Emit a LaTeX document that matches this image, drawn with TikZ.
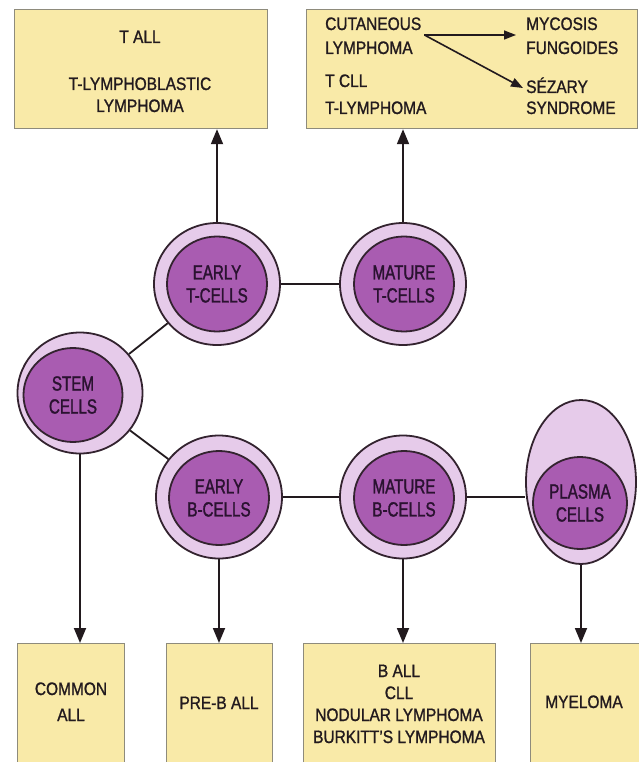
\documentclass[tikz,border=0pt]{standalone}
\usepackage{fontspec}
\setmainfont{Liberation Sans}[FakeStretch=0.86,FakeBold=1.2]
\newfontfamily\cellfont{Liberation Sans}[FakeStretch=0.74,FakeBold=1.4]
\usetikzlibrary{shapes.geometric,arrows.meta,calc}

\definecolor{boxfill}{HTML}{F9EAA8}
\definecolor{boxline}{HTML}{8E8B7C}
\definecolor{cellout}{HTML}{E6CBEA}
\definecolor{cellin}{HTML}{A95CB1}
\definecolor{ink}{HTML}{221A1E}
\definecolor{cellink}{HTML}{2A1230}
\definecolor{rim}{HTML}{33232F}

\begin{document}
\begin{tikzpicture}[x=1pt,y=-1pt,
  panel/.style={draw=boxline, line width=1.2pt, fill=boxfill, rectangle,
                inner sep=0pt, anchor=north west},
  outercell/.style={ellipse, draw=rim, line width=1.8pt, fill=cellout, inner sep=0pt},
  innercell/.style={ellipse, draw=rim, line width=1.8pt, fill=cellin, inner sep=0pt,
                    align=center, text=cellink,
                    font=\cellfont\fontsize{20.5}{23}\selectfont},
  txt/.style={inner sep=0pt, text=ink, font=\fontsize{18}{22}\selectfont},
  link/.style={draw=ink, line width=1.8pt},
  arr/.style={draw=ink, line width=1.8pt, -{Triangle[width=12pt,length=15pt]}},
  smallarr/.style={draw=ink, line width=1.6pt, -{Triangle[width=9pt,length=12pt]}}
]
\useasboundingbox (0,0) rectangle (638,762);

% result panels, top row
\node[panel, minimum width=253pt, minimum height=119pt] (tl) at (14,9) {};
\node[panel, minimum width=331pt, minimum height=119pt] (tr) at (306,9) {};

% result panels, bottom row (running off the lower edge)
\node[panel, minimum width=107pt, minimum height=125pt] (b1) at (17,643) {};
\node[panel, minimum width=106pt, minimum height=125pt] (b2) at (166,643) {};
\node[panel, minimum width=192pt, minimum height=125pt] (b3) at (303,643) {};
\node[panel, minimum width=112pt, minimum height=125pt] (b4) at (530,643) {};

% cells: outer cytoplasm and inner nucleus
\node[outercell, minimum width=126pt, minimum height=122pt] (etO) at (217,284) {};
\node[innercell, minimum width=100pt, minimum height=95pt] (etI) at (217,284) {EARLY\\T-CELLS};

\node[outercell, minimum width=126pt, minimum height=122pt] (mtO) at (403,284) {};
\node[innercell, minimum width=100pt, minimum height=95pt] (mtI) at (404,284) {MATURE\\T-CELLS};

\node[outercell, minimum width=125pt, minimum height=121pt] (stO) at (80,393) {};
\node[innercell, minimum width=99pt, minimum height=94pt] (stI) at (73,395) {STEM\\CELLS};

\node[outercell, minimum width=126pt, minimum height=123pt] (ebO) at (219,497) {};
\node[innercell, minimum width=100pt, minimum height=94pt] (ebI) at (219,498) {EARLY\\B-CELLS};

\node[outercell, minimum width=126pt, minimum height=123pt] (mbO) at (403,497) {};
\node[innercell, minimum width=100pt, minimum height=94pt] (mbI) at (404,498) {MATURE\\B-CELLS};

\node[outercell, minimum width=110pt, minimum height=164pt] (plO) at (581,482) {};
\node[innercell, minimum width=94pt, minimum height=92pt] (plI) at (580,503) {PLASMA\\CELLS};

% lineage links
\draw[link] (stO) -- (etO);
\draw[link] (stO) -- (ebO);
\draw[link] (etO) -- (mtO);
\draw[link] (ebO) -- (mbO);
\draw[link] (mbO) -- (plO.west |- mbO);

% arrows to the malignancies
\draw[arr] (etO) -- (etO |- tl.south);
\draw[arr] (mtO) -- (mtO |- tr.south);
\draw[arr] (stO) -- (stO |- b1.north);
\draw[arr] (ebO) -- (ebO |- b2.north);
\draw[arr] (mbO) -- (mbO |- b3.north);
\draw[arr] (plO) -- (plO |- b4.north);

% top-left panel text
\node[txt, anchor=base] (tall) at (140,43) {T ALL};
\node[txt, anchor=base] (tlb1) at (140,90) {T-LYMPHOBLASTIC};
\node[txt, anchor=base] (tlb2) at (140,112) {LYMPHOMA};

% top-right panel text
\node[txt, anchor=base west] (cut1) at (325,30) {CUTANEOUS};
\node[txt, anchor=base west] (cut2) at (325,54) {LYMPHOMA};
\node[txt, anchor=base west] (tcll) at (325,87) {T CLL};
\node[txt, anchor=base west] (tlym) at (325,114) {T-LYMPHOMA};
\node[txt, anchor=base west] (myc1) at (526,30) {MYCOSIS};
\node[txt, anchor=base west] (myc2) at (526,54) {FUNGOIDES};
\node[txt, anchor=base west] (sez1) at (526,93) {SÉZARY};
\node[txt, anchor=base west] (sez2) at (526,114) {SYNDROME};

\coordinate (fork) at ($(cut1.base east)+(3,5)$);
\draw[smallarr] (fork) -- ($(myc1.base west)+(-10,5)$);
\draw[smallarr] (fork) -- ($(sez1.base west)+(-3,-5)$);

% bottom panel text
\node[txt, anchor=base] (com1) at (71,695) {COMMON};
\node[txt, anchor=base] (com2) at (71,721) {ALL};
\node[txt, anchor=base] (preb) at (219,709) {PRE-B ALL};
\node[txt, anchor=base] (ball) at (399,677) {B ALL};
\node[txt, anchor=base] (cll) at (399,699) {CLL};
\node[txt, anchor=base] (nod) at (399,721) {NODULAR LYMPHOMA};
\node[txt, anchor=base] (burk) at (399,743) {BURKITT'S LYMPHOMA};
\node[txt, anchor=base] (myel) at (584,708) {MYELOMA};
\end{tikzpicture}
\end{document}
